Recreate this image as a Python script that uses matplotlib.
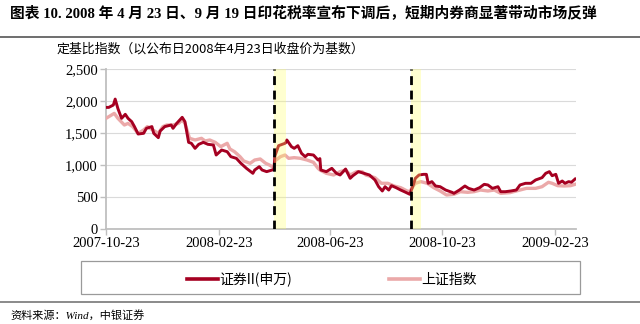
import matplotlib
matplotlib.use("Agg")
import matplotlib.pyplot as plt
from matplotlib.patches import Rectangle
from matplotlib.lines import Line2D
import pandas as pd

# 证券II(申万) — fixed-base index
broker_dates = ["2007-10-23","2007-10-26","2007-10-31","2007-11-02","2007-11-05","2007-11-09","2007-11-13","2007-11-16","2007-11-20","2007-11-23",
                "2007-11-27","2007-12-03","2007-12-06","2007-12-12","2007-12-14","2007-12-19","2007-12-21","2007-12-26","2008-01-02","2008-01-04",
                "2008-01-08","2008-01-14","2008-01-17","2008-01-21","2008-01-24","2008-01-28","2008-02-01","2008-02-06","2008-02-11","2008-02-17",
                "2008-02-20","2008-02-26","2008-03-03","2008-03-07","2008-03-13","2008-03-18","2008-03-24","2008-03-31","2008-04-02","2008-04-07",
                "2008-04-10","2008-04-15","2008-04-21","2008-04-23","2008-04-24","2008-04-28","2008-05-05","2008-05-06","2008-05-07","2008-05-12",
                "2008-05-15","2008-05-19","2008-05-23","2008-05-27","2008-05-30","2008-06-05","2008-06-10","2008-06-12","2008-06-13","2008-06-19",
                "2008-06-25","2008-06-30","2008-07-04","2008-07-10","2008-07-15","2008-07-18","2008-07-24","2008-07-30","2008-08-05","2008-08-11",
                "2008-08-15","2008-08-19","2008-08-22","2008-08-26","2008-08-29","2008-09-03","2008-09-08","2008-09-12","2008-09-18","2008-09-22",
                "2008-09-24","2008-09-28","2008-10-03","2008-10-06","2008-10-08","2008-10-12","2008-10-16","2008-10-21","2008-10-27","2008-11-03",
                "2008-11-05","2008-11-11","2008-11-17","2008-11-21","2008-11-27","2008-12-03","2008-12-08","2008-12-12","2008-12-17","2008-12-23",
                "2008-12-26","2008-12-31","2009-01-06","2009-01-12","2009-01-16","2009-01-22","2009-01-28","2009-02-02","2009-02-09","2009-02-13",
                "2009-02-17","2009-02-20","2009-02-24","2009-02-27","2009-03-03","2009-03-06","2009-03-10","2009-03-13","2009-03-17"]
broker_values = [1900,1900,1937,2030,1880,1729,1792,1729,1677,1600,
                 1484,1495,1573,1600,1495,1427,1531,1600,1625,1573,
                 1650,1745,1677,1354,1339,1260,1323,1354,1323,1313,
                 1156,1234,1208,1130,1104,1026,948,870,922,974,
                 922,896,922,930,1141,1302,1339,1354,1391,1287,
                 1260,1302,1182,1130,1167,1156,1078,1100,922,896,
                 948,870,844,937,792,833,896,870,844,766,
                 661,594,661,609,677,646,609,583,542,700,
                 792,844,854,854,714,740,672,661,609,573,
                 557,609,672,635,609,646,698,688,635,661,
                 583,583,594,609,688,714,714,766,802,870,
                 896,833,854,714,750,714,740,730,781]

# 上证指数 — fixed-base index
sh_dates = ["2007-10-23","2007-10-26","2007-11-01","2007-11-05","2007-11-12","2007-11-16","2007-11-21","2007-11-27","2007-12-03","2007-12-07",
            "2007-12-13","2007-12-19","2007-12-24","2007-12-28","2008-01-04","2008-01-10","2008-01-14","2008-01-17","2008-01-22","2008-01-28",
            "2008-02-04","2008-02-08","2008-02-13","2008-02-19","2008-02-25","2008-03-03","2008-03-06","2008-03-11","2008-03-17","2008-03-21",
            "2008-03-28","2008-04-02","2008-04-08","2008-04-14","2008-04-18","2008-04-23","2008-04-24","2008-04-30","2008-05-05","2008-05-09",
            "2008-05-15","2008-05-22","2008-05-29","2008-06-05","2008-06-10","2008-06-12","2008-06-19","2008-06-27","2008-07-04","2008-07-10",
            "2008-07-15","2008-07-22","2008-07-28","2008-08-01","2008-08-11","2008-08-18","2008-08-25","2008-09-01","2008-09-08","2008-09-15",
            "2008-09-18","2008-09-22","2008-09-24","2008-09-30","2008-10-07","2008-10-14","2008-10-21","2008-10-28","2008-11-05","2008-11-12",
            "2008-11-20","2008-11-27","2008-12-04","2008-12-12","2008-12-19","2008-12-26","2009-01-05","2009-01-09","2009-01-16","2009-01-23",
            "2009-02-02","2009-02-09","2009-02-16","2009-02-20","2009-02-26","2009-03-05","2009-03-12","2009-03-17"]
sh_values = [1729,1755,1807,1729,1625,1650,1600,1495,1547,1600,
             1547,1495,1600,1625,1625,1650,1703,1650,1417,1391,
             1417,1375,1391,1354,1287,1339,1250,1208,1130,1063,
             1026,1078,1094,1026,1000,958,1063,1130,1156,1104,
             1115,1104,1078,1042,948,922,870,844,896,922,
             844,896,896,844,802,714,714,672,646,594,
             585,680,714,740,714,646,594,531,542,583,
             573,583,609,594,609,557,568,583,609,635,
             635,661,730,714,677,672,677,698]

# Stamp-duty announcements and the short rebound windows after them
event_dates = ["2008-04-23", "2008-09-19"]
window_ends = ["2008-05-06", "2008-09-30"]

tick_labels = ["2007-10-23", "2008-02-23", "2008-06-23", "2008-10-23", "2009-02-23"]
y_ticks = [0, 500, 1000, 1500, 2000, 2500]

series_names = ["证券II(申万)", "上证指数"]
title = "图表 10. 2008 年 4 月 23 日、9 月 19 日印花税率宣布下调后，短期内券商显著带动市场反弹"
subtitle = "定基比指数（以公布日2008年4月23日收盘价为基数）"
source = "资料来源：Wind，中银证券"

RED = "#A50021"
PINK = "#EBA9A9"
SERIF = ["Liberation Serif", "Noto Sans CJK SC"]
CJK = ["Noto Sans CJK SC", "Liberation Serif"]

fig = plt.figure(figsize=(6.4, 3.24), dpi=100)
ax = fig.add_axes([106/640, 1-229/324, 470/640, 160/324])

bd = pd.to_datetime(broker_dates)
sd = pd.to_datetime(sh_dates)
ax.plot(sd, sh_values, color=PINK, lw=2.4, solid_joinstyle="round", zorder=3)
ax.plot(bd, broker_values, color=RED, lw=2.1, solid_joinstyle="round", zorder=4)

for start, end in zip(event_dates, window_ends):
    ax.axvspan(pd.Timestamp(start), pd.Timestamp(end), color="#FFFF66", alpha=0.3, lw=0, zorder=5)
    ax.axvline(pd.Timestamp(start), color="black", lw=2.0, ls=(0, (3.2, 2.0)), zorder=6)

ax.set_xlim(pd.Timestamp("2007-10-23"), pd.Timestamp("2009-03-18"))
ax.set_ylim(0, 2500)
ax.set_yticks(y_ticks)
ax.set_yticklabels([f"{v:,}" for v in y_ticks], fontfamily=SERIF, fontsize=10.5)
ax.set_xticks(pd.to_datetime(tick_labels))
ax.set_xticklabels(tick_labels, fontfamily=SERIF, fontsize=10.5)

ax.grid(axis="y", color="#DADADA", lw=0.8, zorder=0)
for s in ("top", "right"):
    ax.spines[s].set_visible(False)
for s in ("left", "bottom"):
    ax.spines[s].set_color("#BFBFBF")
    ax.spines[s].set_linewidth(1.3)
ax.tick_params(axis="both", colors="#BFBFBF", length=4, width=1, labelcolor="black", pad=2)

# header
fig.text(10/640, 1-13/324, title, fontfamily=SERIF, fontsize=10.6, fontweight="bold",
         ha="left", va="center")
fig.add_artist(Line2D([0, 1], [1-37/324]*2, color="#555555", lw=1.2))
fig.text(57/640, 1-49/324, subtitle, fontfamily=CJK, fontsize=9.3, ha="left", va="center")

# legend box
fig.add_artist(Rectangle((81/640, 1-294/324), 499/640, 33/324, transform=fig.transFigure,
                         fill=False, edgecolor="#9A9A9A", lw=0.9))
handles = [Line2D([], [], color=RED, lw=2.6), Line2D([], [], color=PINK, lw=2.6)]
leg = fig.legend(handles, series_names, loc="center", bbox_to_anchor=(332/640, 1-279/324),
                 ncol=2, frameon=False, handlelength=2.2, handletextpad=0.1, columnspacing=7.0,
                 prop={"family": CJK, "size": 10})

# footer
fig.add_artist(Line2D([0, 1], [1-301.5/324]*2, color="#777777", lw=1.2))
fig.text(10/640, 1-315/324, source, fontfamily=SERIF, fontsize=8, style="italic",
         ha="left", va="center")

fig.savefig("out.png", dpi=100)
